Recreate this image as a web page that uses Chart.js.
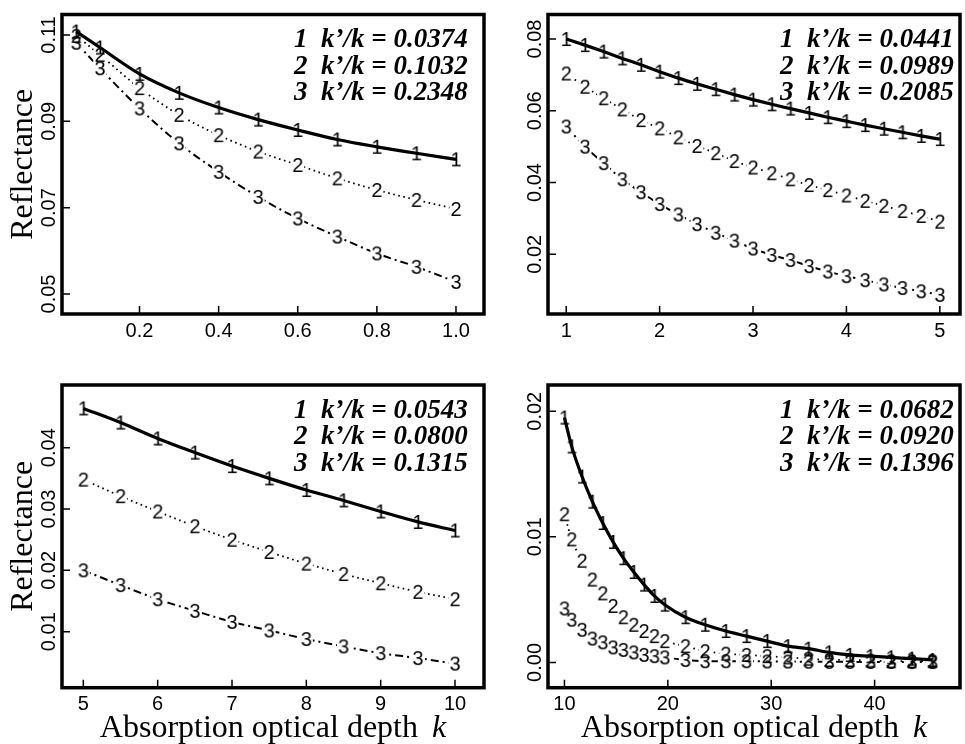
<!DOCTYPE html>
<html>
<head>
<meta charset="utf-8">
<script src="https://cdn.jsdelivr.net/npm/chart.js@4.4.1/dist/chart.umd.min.js"></script>
<style>
  html, body { margin: 0; padding: 0; background: #fff; }
  #wrap { position: relative; width: 965px; height: 744px; overflow: hidden; }
  canvas { position: absolute; }
</style>
</head>
<body>
<div id="wrap">
  <canvas id="p1" width="490" height="372" style="left:0;top:0"></canvas>
  <canvas id="p2" width="475" height="372" style="left:490px;top:0"></canvas>
  <canvas id="p3" width="490" height="372" style="left:0;top:372px"></canvas>
  <canvas id="p4" width="475" height="372" style="left:490px;top:372px"></canvas>
</div>
<script>
// panel 1 : k from 0 to 1
const p1K = [0.04, 0.1, 0.2, 0.3, 0.4, 0.5, 0.6, 0.7, 0.8, 0.9, 1.0];
const p1R1 = [0.1108, 0.1071, 0.1010, 0.0966, 0.0932, 0.0904, 0.0880, 0.0858, 0.0841, 0.0826, 0.0812];
const p1R2 = [0.1098, 0.1054, 0.0977, 0.0915, 0.0868, 0.0830, 0.0799, 0.0768, 0.0741, 0.0718, 0.0697];
const p1R3 = [0.1082, 0.1023, 0.0930, 0.0849, 0.0783, 0.0725, 0.0675, 0.0633, 0.0594, 0.0563, 0.0528];
const p1Ratios = ['0.0374', '0.1032', '0.2348'];
const p1XTicks = [0.2, 0.4, 0.6, 0.8, 1.0];
const p1XLabels = ['0.2', '0.4', '0.6', '0.8', '1.0'];
const p1YTicks = [0.05, 0.07, 0.09, 0.11];
const p1YLabels = ['0.05', '0.07', '0.09', '0.11'];

// panel 2 : k from 1 to 5
const p2K = [1, 1.2, 1.4, 1.6, 1.8, 2, 2.2, 2.4, 2.6, 2.8, 3, 3.2, 3.4, 3.6, 3.8, 4, 4.2, 4.4, 4.6, 4.8, 5];
const p2R1 = [0.0800, 0.0783, 0.0765, 0.0746, 0.0728, 0.0709, 0.0691, 0.0675, 0.0660, 0.0645, 0.0631,
              0.0618, 0.0606, 0.0594, 0.0582, 0.0571, 0.0560, 0.0550, 0.0540, 0.0530, 0.0521];
const p2R2 = [0.0704, 0.0667, 0.0635, 0.0604, 0.0574, 0.0551, 0.0526, 0.0502, 0.0482, 0.0460, 0.0442,
              0.0426, 0.0409, 0.0393, 0.0379, 0.0364, 0.0349, 0.0335, 0.0321, 0.0307, 0.0291];
const p2R3 = [0.0556, 0.0500, 0.0454, 0.0409, 0.0373, 0.0340, 0.0311, 0.0284, 0.0260, 0.0238, 0.0216,
              0.0198, 0.0184, 0.0167, 0.0152, 0.0139, 0.0128, 0.0116, 0.0106, 0.0097, 0.0087];
const p2Ratios = ['0.0441', '0.0989', '0.2085'];
const p2XTicks = [1, 2, 3, 4, 5];
const p2XLabels = ['1', '2', '3', '4', '5'];
const p2YTicks = [0.02, 0.04, 0.06, 0.08];
const p2YLabels = ['0.02', '0.04', '0.06', '0.08'];

// panel 3 : k from 5 to 10
const p3K = [5, 5.5, 6, 6.5, 7, 7.5, 8, 8.5, 9, 9.5, 10];
const p3R1 = [0.0464, 0.0441, 0.0415, 0.0392, 0.0370, 0.0350, 0.0331, 0.0314, 0.0296, 0.0279, 0.0265];
const p3R2 = [0.0348, 0.0321, 0.0296, 0.0272, 0.0250, 0.0230, 0.0211, 0.0194, 0.0179, 0.0165, 0.0153];
const p3R3 = [0.0200, 0.0176, 0.0153, 0.0134, 0.0116, 0.0102, 0.0088, 0.0076, 0.0065, 0.0057, 0.0048];
const p3Ratios = ['0.0543', '0.0800', '0.1315'];
const p3XTicks = [5, 6, 7, 8, 9, 10];
const p3XLabels = ['5', '6', '7', '8', '9', '10'];
const p3YTicks = [0.01, 0.02, 0.03, 0.04];
const p3YLabels = ['0.01', '0.02', '0.03', '0.04'];

// panel 4 : k from 10 to ~46
const p4K = [10, 10.7, 11.7, 12.7, 13.7, 14.7, 15.7, 16.7, 17.7, 18.7, 19.7, 21.7,
             23.6, 25.6, 27.6, 29.6, 31.6, 33.6, 35.6, 37.6, 39.6, 41.6, 43.6, 45.6];
const p4R1 = [0.0195, 0.0172, 0.0148, 0.0128, 0.0111, 0.0096, 0.0083, 0.0072, 0.0062, 0.0053, 0.0046, 0.0036,
              0.0030, 0.0025, 0.0021, 0.0017, 0.0013, 0.0011, 0.0008, 0.0006, 0.0005, 0.0004, 0.0003, 0.0002];
const p4R2 = [0.0118, 0.0098, 0.0081, 0.0066, 0.0055, 0.0045, 0.0036, 0.0030, 0.0025, 0.0021, 0.0017, 0.0013,
              0.0009, 0.0007, 0.0006, 0.0005, 0.0004, 0.0003, 0.0002, 0.0002, 0.00015, 0.0001, 0.0001, 0.0001];
const p4R3 = [0.0043, 0.0034, 0.0026, 0.0019, 0.0016, 0.0012, 0.0010, 0.0008, 0.0006, 0.0005, 0.0004, 0.0002,
              0.0001, 0.0001, 0.0001, 0.00008, 0.00007, 0.00006, 0.00005, 0.00005, 0.00004, 0.00004, 0.00003, 0.00003];
const p4Ratios = ['0.0682', '0.0920', '0.1396'];
const p4XTicks = [10, 20, 30, 40];
const p4XLabels = ['10', '20', '30', '40'];
const p4YTicks = [0.00, 0.01, 0.02];
const p4YLabels = ['0.00', '0.01', '0.02'];

// petite image d'un chiffre, utilisee comme symbole de point
function makeGlyph(ch) {
    const c = document.createElement('canvas');
    c.width = 18;
    c.height = 24;
    const g = c.getContext('2d');
    g.font = '20px "Liberation Sans"';
    g.fillStyle = '#000';
    g.textAlign = 'center';
    g.textBaseline = 'alphabetic';
    g.fillText(ch, 9, 19.2);
    return c;
}
const glyphs = { '1': makeGlyph('1'), '2': makeGlyph('2'), '3': makeGlyph('3') };

// cadre, graduations interieures, legende et titre de l'axe x
const decor = {
    id: 'decor',
    afterDatasetDraw(chart, args) {
        const ds = chart.data.datasets[args.index];
        if (!ds.gapAround) return;
        // trou dans la ligne autour de chaque chiffre (comme type="b")
        const ctx = chart.ctx;
        ctx.save();
        ctx.globalCompositeOperation = 'destination-out';
        args.meta.data.forEach(pt => ctx.fillRect(pt.x - 6.5, pt.y - 8, 13, 16));
        ctx.restore();
    },
    afterDraw(chart, args, opts) {
        const ctx = chart.ctx;
        const a = chart.chartArea;
        const xs = chart.scales.x;
        const ys = chart.scales.y;
        ctx.save();
        ctx.strokeStyle = '#000';
        ctx.lineWidth = 1.5;
        ctx.beginPath();
        xs.ticks.forEach(t => {
            const px = xs.getPixelForValue(t.value);
            ctx.moveTo(px, a.bottom);
            ctx.lineTo(px, a.bottom - 8);
        });
        ys.ticks.forEach(t => {
            const py = ys.getPixelForValue(t.value);
            ctx.moveTo(a.left, py);
            ctx.lineTo(a.left + 8, py);
        });
        ctx.stroke();
        ctx.lineWidth = 3.5;
        ctx.strokeRect(a.left, a.top, a.right - a.left, a.bottom - a.top);

        ctx.fillStyle = '#000';
        ctx.font = 'italic bold 27px "Liberation Serif"';
        ctx.textAlign = 'left';
        ctx.textBaseline = 'middle';
        opts.ratios.forEach((r, i) => {
            ctx.fillText((i + 1) + '  k\u2019/k = ' + r, a.left + 232, a.top + 26 + i * 26.5);
        });

        if (opts.xTitle) {
            const t1 = 'Absorption optical depth';
            ctx.font = '32px "Liberation Serif"';
            const w1 = ctx.measureText(t1).width;
            ctx.font = 'italic 32px "Liberation Serif"';
            const wk = ctx.measureText('k').width;
            const gap = 14;
            const x0 = (a.left + a.right) / 2 - (w1 + gap + wk) / 2;
            const y = a.bottom + 49.5;
            ctx.textBaseline = 'alphabetic';
            ctx.font = '32px "Liberation Serif"';
            ctx.fillText(t1, x0, y);
            ctx.font = 'italic 32px "Liberation Serif"';
            ctx.fillText('k', x0 + w1 + gap, y);
        }
        ctx.restore();
    }
};

function seriesSets(k, r1, r2, r3) {
    const pts = v => k.map((x, i) => ({ x: x, y: v[i] }));
    const lineBase = { borderColor: '#000', pointRadius: 0, cubicInterpolationMode: 'monotone', fill: false };
    const markBase = { showLine: false, pointRadius: 3, borderColor: '#000' };
    return [
        Object.assign({ data: pts(r1), borderWidth: 3.2 }, lineBase),
        Object.assign({ data: pts(r1), pointStyle: glyphs['1'] }, markBase),
        Object.assign({ data: pts(r2), pointStyle: glyphs['2'] }, markBase),
        Object.assign({ data: pts(r3), pointStyle: glyphs['3'] }, markBase),
        Object.assign({ data: pts(r2), borderWidth: 1.8, borderDash: [1.6, 3.6], gapAround: true }, lineBase),
        Object.assign({ data: pts(r3), borderWidth: 2, borderDash: [8, 4, 2, 4], gapAround: true }, lineBase)
    ];
}

function buildPanel(id, p) {
    const tickFont = { family: 'Liberation Sans', size: 20 };
    return new Chart(document.getElementById(id), {
        type: 'line',
        data: { datasets: seriesSets(p.k, p.r1, p.r2, p.r3) },
        options: {
            responsive: false,
            animation: false,
            devicePixelRatio: 1,
            events: [],
            layout: { padding: p.pad },
            plugins: {
                legend: { display: false },
                tooltip: { enabled: false },
                decor: { ratios: p.ratios, xTitle: p.xTitle }
            },
            scales: {
                x: {
                    type: 'linear',
                    min: p.xMin,
                    max: p.xMax,
                    afterBuildTicks: s => { s.ticks = p.xTicks.map(v => ({ value: v })); },
                    afterFit: s => { s.height = p.xH; },
                    grid: { display: false, drawTicks: false },
                    border: { display: false },
                    ticks: {
                        callback: (v, i) => p.xLabels[i],
                        font: tickFont,
                        color: '#000',
                        padding: 5,
                        autoSkip: false,
                        maxRotation: 0
                    }
                },
                y: {
                    type: 'linear',
                    min: p.yMin,
                    max: p.yMax,
                    afterBuildTicks: s => { s.ticks = p.yTicks.map(v => ({ value: v })); },
                    afterFit: s => { s.width = p.yW; },
                    grid: { display: false, drawTicks: false },
                    border: { display: false },
                    ticks: {
                        callback: (v, i) => p.yLabels[i],
                        font: tickFont,
                        color: '#000',
                        minRotation: 90,
                        maxRotation: 90,
                        crossAlign: 'center',
                        padding: -6.5,
                        autoSkip: false
                    },
                    title: {
                        display: p.yTitle,
                        text: 'Reflectance',
                        color: '#000',
                        font: { family: 'Liberation Serif', size: 32 },
                        padding: { top: 4, bottom: 0 }
                    }
                }
            }
        },
        plugins: [decor]
    });
}

document.addEventListener('DOMContentLoaded', () => {
    buildPanel('p1', {
        k: p1K, r1: p1R1, r2: p1R2, r3: p1R3, ratios: p1Ratios,
        xTicks: p1XTicks, xLabels: p1XLabels, yTicks: p1YTicks, yLabels: p1YLabels,
        xMin: 0.0041, xMax: 1.0708, yMin: 0.04537, yMax: 0.11475,
        pad: { left: 0, top: 14.5, right: 6, bottom: 0 }, yW: 62, xH: 58,
        yTitle: true, xTitle: false
    });
    buildPanel('p2', {
        k: p2K, r1: p2R1, r2: p2R2, r3: p2R3, ratios: p2Ratios,
        xTicks: p2XTicks, xLabels: p2XLabels, yTicks: p2YTicks, yLabels: p2YLabels,
        xMin: 0.805, xMax: 5.216, yMin: 0.00336, yMax: 0.08683,
        pad: { left: 0, top: 14.5, right: 3, bottom: 0 }, yW: 58, xH: 58,
        yTitle: false, xTitle: false
    });
    buildPanel('p3', {
        k: p3K, r1: p3R1, r2: p3R2, r3: p3R3, ratios: p3Ratios,
        xTicks: p3XTicks, xLabels: p3XLabels, yTicks: p3YTicks, yLabels: p3YLabels,
        xMin: 4.713, xMax: 10.39, yMin: 0.00087, yMax: 0.05022,
        pad: { left: 0, top: 13, right: 6, bottom: 0 }, yW: 62, xH: 56.3,
        yTitle: true, xTitle: true
    });
    buildPanel('p4', {
        k: p4K, r1: p4R1, r2: p4R2, r3: p4R3, ratios: p4Ratios,
        xTicks: p4XTicks, xLabels: p4XLabels, yTicks: p4YTicks, yLabels: p4YLabels,
        xMin: 8.41, xMax: 48.26, yMin: -0.00201, yMax: 0.02209,
        pad: { left: 0, top: 13, right: 3, bottom: 0 }, yW: 58, xH: 56.3,
        yTitle: false, xTitle: true
    });
});
</script>
</body>
</html>
